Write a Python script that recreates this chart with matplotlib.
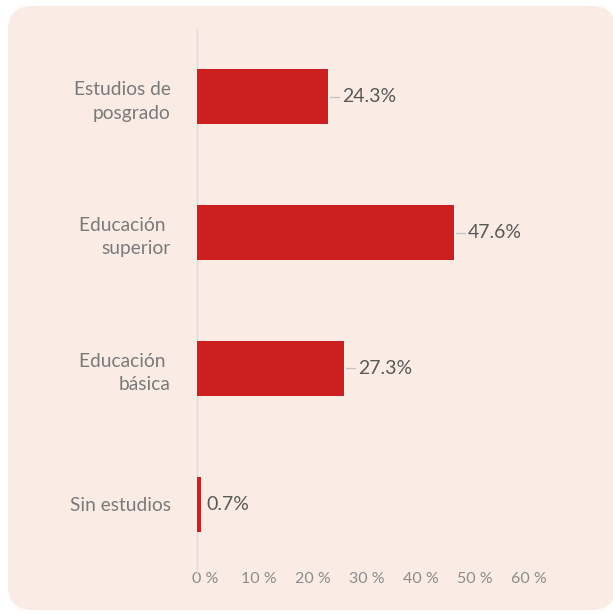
import matplotlib
matplotlib.use("Agg")
import matplotlib.pyplot as plt
from matplotlib.patches import FancyBboxPatch
from matplotlib.transforms import ScaledTranslation

categories = ["Estudios de\nposgrado", "Educación \nsuperior", "Educación \nbásica", "Sin estudios"]
values = [24.3, 47.6, 27.3, 0.7]
value_labels = ["24.3%", "47.6%", "27.3%", "0.7%"]
xticks = [0, 10, 20, 30, 40, 50, 60]
xtick_labels = ["0 %", "10 %", "20 %", "30 %", "40 %", "50 %", "60 %"]

BG = "#FAECE5"
BAR = "#CC1F20"
FONT = ["Lato", "DejaVu Sans"]
plt.rcParams['font.family'] = FONT

W, H = 613, 614
fig = plt.figure(figsize=(W / 100, H / 100), dpi=100)
fig.patch.set_facecolor("white")

# rounded background panel
panel = FancyBboxPatch((8 / W, 4 / H), (W - 8) / W + 0.005, (H - 10) / H,
                       boxstyle="round,pad=0,rounding_size=0.04",
                       transform=fig.transFigure, facecolor=BG, edgecolor="none",
                       zorder=-10)
fig.patches.append(panel)

left, right = 197, 521
top, bottom = 29, 572
ax = fig.add_axes([left / W, 1 - bottom / H, (right - left) / W, (bottom - top) / H])
ax.set_facecolor("none")
ax.set_zorder(5)

ypos = list(range(len(categories)))
ax.barh(ypos, values, height=0.405, color=BAR, zorder=3)
ax.set_xlim(0, 60)
ax.set_ylim(3.5, -0.5)

for s in ["top", "right", "bottom"]:
    ax.spines[s].set_visible(False)
ax.spines["left"].set_color("#D9DCE3")
ax.spines["left"].set_linewidth(1.0)

ax.set_yticks(ypos)
ax.set_yticklabels(categories, fontsize=13.8, color="#7A7A7A", linespacing=1.45,
                   ha="right")
ax.tick_params(axis="y", length=0, pad=19)

ax.set_xticks(xticks)
ax.set_xticklabels(xtick_labels, fontsize=11.5, color="#8C8C8C")
ax.tick_params(axis="x", length=0, pad=0)
offset = ScaledTranslation(8 / 100, 0, fig.dpi_scale_trans)
for lab in ax.get_xticklabels():
    lab.set_transform(lab.get_transform() + offset)

px = 60 / (right - left)  # data units per pixel
for y, v, lab in zip(ypos, values, value_labels):
    if v > 5:
        ax.plot([v + 2 * px, v + 11 * px], [y, y], color="#BFC3CC", lw=0.9,
                zorder=2, clip_on=False)
        tx = v + 14 * px
    else:
        tx = v + 6 * px
    ax.text(tx, y, lab, fontsize=14, color="#595959", va="center", ha="left")

fig.savefig("out.png", dpi=100, facecolor="white")
